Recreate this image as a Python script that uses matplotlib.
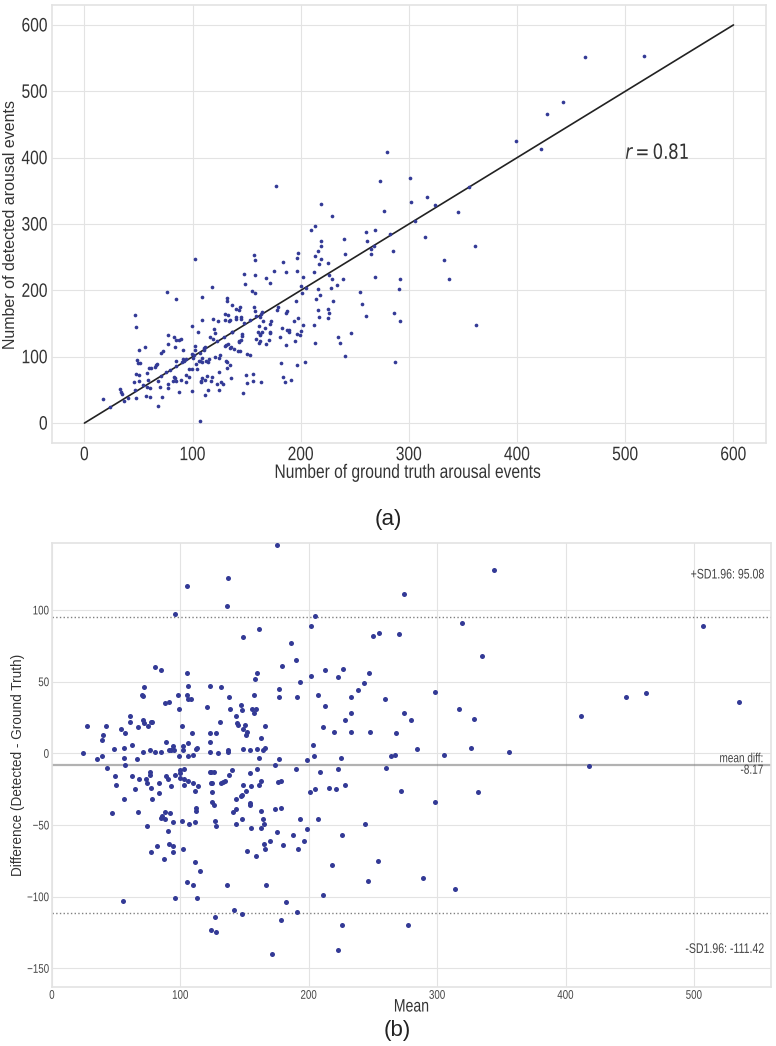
import numpy as np
import matplotlib.pyplot as plt
from matplotlib.patheffects import AbstractPathEffect
from matplotlib.transforms import Affine2D

# points: mean of both counts, detected - ground truth
mean_vals = [24, 27, 35, 39, 40, 39, 42, 43, 47, 48, 49, 50, 54, 55, 56, 56, 56, 57, 57, 61,
             61, 62, 62, 65, 66, 67, 67, 68, 70, 71, 72, 71, 71, 72, 73, 74, 74, 75, 76, 76,
             76, 77, 77, 77, 78, 78, 80, 80, 82, 83, 83, 85, 85, 85, 86, 87, 88, 88, 88, 89,
             89, 90, 90, 91, 91, 91, 92, 93, 93, 94, 94, 94, 94, 95, 96, 96, 96, 98, 99, 99,
             100, 100, 100, 101, 101, 102, 102, 102, 103, 103, 103, 105, 105, 105, 105, 106, 106, 106, 106, 106,
             107, 108, 109, 110, 110, 110, 111, 111, 111, 112, 112, 112, 113, 113, 114, 115, 121, 123, 123, 123,
             123, 123, 124, 124, 124, 125, 125, 125, 126, 126, 127, 127, 128, 128, 128, 129, 131, 132, 132, 133,
             135, 136, 136, 137, 137, 137, 138, 138, 139, 140, 141, 142, 143, 143, 143, 143, 144, 145, 147, 147,
             148, 148, 148, 148, 149, 149, 149, 149, 150, 151, 151, 152, 152, 154, 154, 154, 154, 155, 155, 156,
             157, 157, 158, 159, 160, 159, 160, 160, 161, 161, 161, 163, 163, 163, 163, 164, 164, 165, 165, 166,
             166, 166, 167, 170, 171, 174, 174, 175, 175, 176, 177, 177, 177, 178, 178, 178, 179, 180, 182, 186,
             188, 190, 190, 191, 191, 192, 193, 193, 196, 199, 199, 201, 202, 202, 203, 204, 205, 205, 207, 207,
             209, 211, 211, 213, 213, 216, 218, 220, 221, 223, 223, 223, 225, 226, 226, 227, 228, 228, 233, 233,
             233, 238, 243, 244, 246, 247, 248, 250, 254, 255, 259, 260, 264, 267, 268, 270, 272, 274, 274, 277,
             280, 284, 289, 298, 298, 305, 314, 317, 319, 326, 329, 332, 335, 344, 356, 412, 418, 447, 463, 507,
             535]
diff_vals = [0, 19, -4, 9, 13, -2, 19, -10, -42, 3, -16, -22, 17, -103, 4, -32, -3, -8, 14, 22,
             26, -16, 6, -25, -4, -41, 18, -18, 41, 40, 46, 1, 23, 21, -18, -21, -51, 19, 2, -13,
             -15, -69, 22, -24, 22, -32, 60, 1, -65, -21, -28, 58, 1, -45, -44, -74, -41, 35, -46, 8,
             -16, -18, -54, 36, 2, -63, -42, -23, 2, -65, 5, -69, -48, 2, 97, -15, -101, 41, 31, -2,
             -14, -12, -17, -47, 19, 5, -67, 2, -18, -11, -22, -90, 117, 56, 41, 7, 38, 47, -19, -2,
             -49, 38, 14, -92, -21, -1, -26, -76, -48, -38, -40, 3, -101, 4, -23, -82, 32, 8, 47, 14,
             1, -13, -21, -123, -13, -34, -27, -21, -36, -13, -47, -114, 14, -51, -125, 0, 22, 46, -21, -20,
             -19, 103, -92, 2, 1, 122, 39, -15, 31, -12, -41, -109, -39, -32, -49, 26, 21, 20, -30, 34,
             -112, -46, 30, -29, 81, 17, 3, -22, 20, -26, 13, -68, 15, -35, -36, -14, 2, -23, -52, 31,
             28, 41, 52, 31, 56, -72, -11, 3, -22, 87, -3, -40, -52, -19, 11, 2, -46, -49, -63, -67,
             4, 19, -92, -61, -140, -39, -8, 145, -55, -20, 45, 39, -4, -19, -38, -116, 61, -64, -104, 77,
             -57, -11, 65, 39, -111, -67, -46, 50, -61, -5, -53, -27, 54, 89, 6, -2, -25, 96, 41, -46,
             -13, -99, 18, 33, 58, -24, -78, 15, -25, -11, 53, -137, -3, -120, -57, 59, 23, -22, 39, 28,
             15, 44, 49, -49, -89, 56, 15, 82, -75, 84, 38, -10, -2, -1, 14, 83, -26, 111, 28, -120,
             23, 3, -87, 43, -34, -1, -95, 31, 91, 4, 24, -27, 68, 128, 1, 26, -9, 39, 42, 89,
             36]
# records of panel (a) whose difference lies outside the y-range of panel (b)
extra_mean = [267, 255, 190]
extra_diff = [180, -214, -195]

r_value = 0.81
mean_diff = -8.17
upper_loa = 95.08
lower_loa = -111.42
sd_limit = 1.96

means = np.array(mean_vals + extra_mean, dtype=float)
diffs = np.array(diff_vals + extra_diff, dtype=float)
ground_truth = means - diffs / 2
detected = means + diffs / 2


class Squeeze(AbstractPathEffect):
    # the source figure was shrunk sideways, so narrow the glyphs a bit
    def __init__(self, sx=0.8, anchor='center'):
        super().__init__()
        self.sx = sx
        self.anchor = anchor

    def draw_path(self, renderer, gc, tpath, affine, rgbFace=None):
        xs = tpath.vertices[:, 0] if len(tpath.vertices) else np.zeros(1)
        pivot = {'left': 0.0, 'center': (xs.min() + xs.max()) / 2, 'right': xs.max()}[self.anchor]
        t = Affine2D().translate(-pivot, 0).scale(self.sx, 1).translate(pivot, 0) + affine
        renderer.draw_path(gc, tpath, t, rgbFace)


def squeeze(texts, sx, anchor):
    for t in texts:
        t.set_path_effects([Squeeze(sx, anchor)])


plt.style.use('seaborn-v0_8-whitegrid')
plt.rcParams['font.family'] = ['Liberation Sans', 'DejaVu Sans']
plt.rcParams['axes.edgecolor'] = '#e3e3e3'
plt.rcParams['grid.color'] = '#e3e3e3'
plt.rcParams['axes.linewidth'] = 1.2
dot_color = '#333a96'

fig = plt.figure(figsize=(7.76, 10.46), dpi=100)

# (a) detected vs ground truth
ax1 = fig.add_axes([0.067, 0.5765, 0.920, 0.4187])
ax1.scatter(ground_truth, detected, s=7, color=dot_color, linewidths=0, zorder=3)
ax1.plot([0, 600], [0, 600], color='#222222', lw=1.2, zorder=2)
ax1.set_xlim(-30, 630)
ax1.set_ylim(-30, 630)
ax1.set_xticks(range(0, 601, 100))
ax1.set_yticks(range(0, 601, 100))
ax1.tick_params(labelsize=14, pad=3, colors='#333333')
ax1.set_xlabel('Number of ground truth arousal events', fontsize=14, color='#333333')
ax1.xaxis.set_label_coords(0.5, -0.05)
ax1.set_ylabel('Number of detected arousal events', fontsize=11.5, color='#333333')
ax1.yaxis.set_label_coords(-0.048, 0.5)
r_txt = ax1.text(500, 392, f'$r = {r_value}$', fontsize=15, color='#333333', ha='left', va='bottom')
squeeze(ax1.get_xticklabels(), 0.8, 'center')
squeeze(ax1.get_yticklabels(), 0.8, 'right')
squeeze([ax1.xaxis.label], 0.8, 'center')
squeeze([r_txt], 0.8, 'left')

# (b) Bland-Altman
ax2 = fig.add_axes([0.067, 0.0564, 0.9265, 0.4245])
ax2.scatter(means, diffs, s=13, color=dot_color, linewidths=0, zorder=3)
ax2.axhline(mean_diff, color='gray', lw=1.6, alpha=0.6, zorder=2)
for lim in (lower_loa, upper_loa):
    ax2.axhline(lim, color='gray', lw=1, linestyle=':', zorder=2)
half = 1.5 * sd_limit * (upper_loa - mean_diff) / sd_limit
ax2.set_ylim(mean_diff - half, mean_diff + half)
ax2.set_xlim(0, 560)
ax2.set_xticks(range(0, 501, 100))
ax2.set_yticks(range(-150, 101, 50))
ax2.tick_params(labelsize=9, pad=2, colors='#444444')
a_mean = ax2.annotate(f'mean diff:\n{mean_diff}', xy=(0.99, 0.5), xycoords='axes fraction',
                      ha='right', va='center', fontsize=9.5, color='#444444', linespacing=0.95)
a_low = ax2.annotate(f'-SD{sd_limit}: {lower_loa}', xy=(0.99, 0.07), xycoords='axes fraction',
                     ha='right', va='bottom', fontsize=10, color='#444444')
a_up = ax2.annotate(f'+SD{sd_limit}: {upper_loa}', xy=(0.99, 0.92), xycoords='axes fraction',
                    ha='right', fontsize=10, color='#444444')
ax2.set_xlabel('Mean', fontsize=13, color='#333333')
ax2.xaxis.set_label_coords(0.5, -0.026)
ax2.set_ylabel('Difference (Detected - Ground Truth)', fontsize=9.8, color='#333333')
ax2.yaxis.set_label_coords(-0.038, 0.5)
squeeze(ax2.get_xticklabels(), 0.78, 'center')
squeeze(ax2.get_yticklabels(), 0.78, 'right')
squeeze([ax2.xaxis.label], 0.78, 'center')
squeeze([a_mean, a_low, a_up], 0.76, 'right')

fig.text(0.5, 0.503, '(a)', fontsize=16, ha='center', va='center', color='#222222')
fig.text(0.512, 0.015, '(b)', fontsize=16, ha='center', va='center', color='#222222')

fig.savefig('out.png', dpi=100)
